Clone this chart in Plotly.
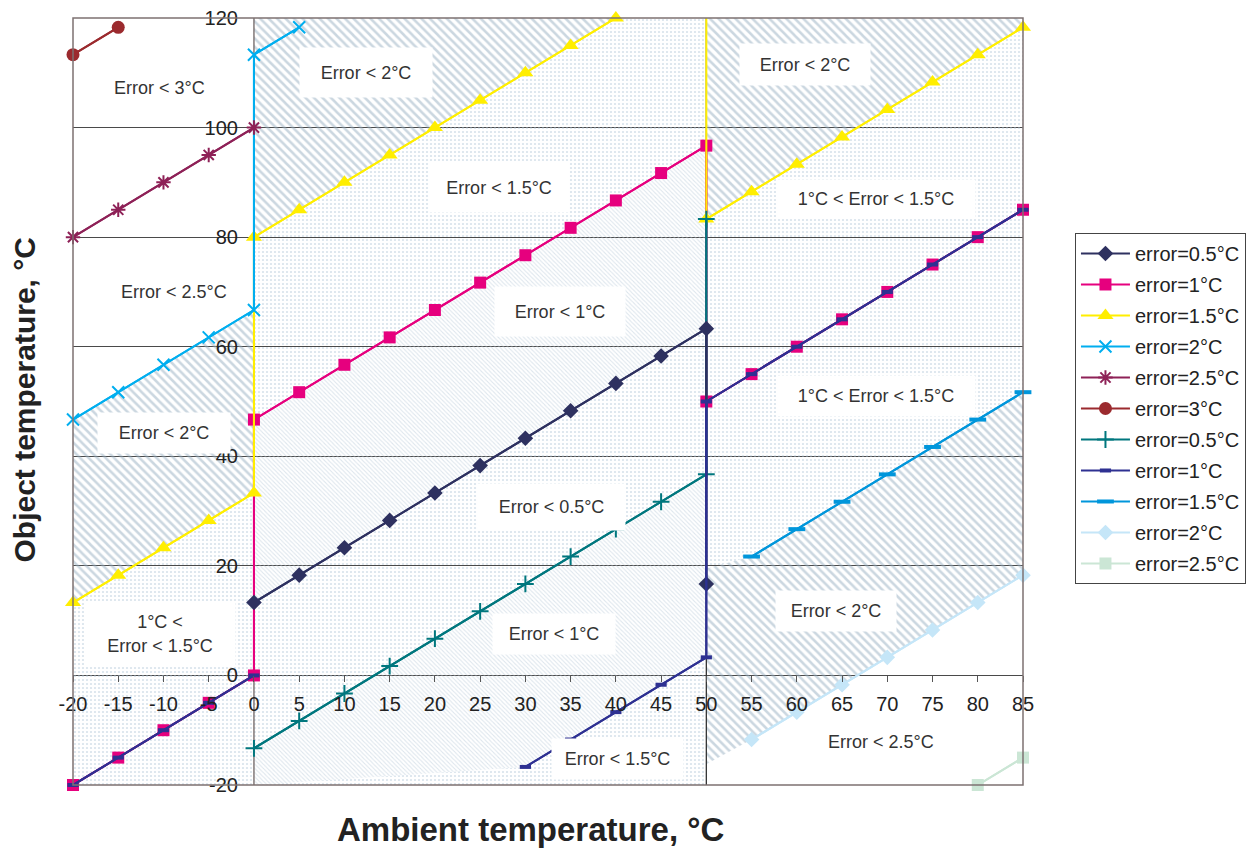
import plotly.graph_objects as go

# ---------------- data ----------------
AMB_LEFT = [-20, -15, -10, -5, 0]
AMB_MID = [0, 5, 10, 15, 20, 25, 30, 35, 40, 45, 50]
AMB_RIGHT = [50, 55, 60, 65, 70, 75, 80, 85]

# first group (markers: diamond, square, triangle, x, asterisk, circle)
E05A_LEFT = [None, None, None, None, None]
E05A_MID = [13.3, 18.3, 23.3, 28.3, 33.3, 38.3, 43.3, 48.3, 53.3, 58.3, 63.3]
E05A_RIGHT = [16.7, None, None, None, None, None, None, None]

E1A_LEFT = [-20, -15, -10, -5, 0]
E1A_MID = [46.7, 51.7, 56.7, 61.7, 66.7, 71.7, 76.7, 81.7, 86.7, 91.7, 96.7]
E1A_RIGHT = [50, 55, 60, 65, 70, 75, 80, 85]

E15A_LEFT = [13.3, 18.3, 23.3, 28.3, 33.3]
E15A_MID = [80, 85, 90, 95, 100, 105, 110, 115, 120, 125, 130]
E15A_RIGHT = [83.3, 88.3, 93.3, 98.3, 103.3, 108.3, 113.3, 118.3]

E2A_LEFT = [46.7, 51.7, 56.7, 61.7, 66.7]
E2A_MID = [113.3, 118.3, None, None, None, None, None, None, None, None, None]
E2A_RIGHT = [None, None, None, None, None, None, None, None]

E25A_LEFT = [80, 85, 90, 95, 100]
E25A_MID = [None] * 11
E25A_RIGHT = [None] * 8

E3A_LEFT = [113.3, 118.3, None, None, None]
E3A_MID = [None] * 11
E3A_RIGHT = [None] * 8

# second group (markers: plus, small dash, dash, light diamond, light square)
E05B_LEFT = [None] * 5
E05B_MID = [-13.3, -8.3, -3.3, 1.7, 6.7, 11.7, 16.7, 21.7, 26.7, 31.7, 36.7]
E05B_RIGHT = [83.3, None, None, None, None, None, None, None]

E1B_LEFT = [-20, -15, -10, -5, 0]
E1B_MID = [None, None, None, None, None, None, -16.7, -11.7, -6.7, -1.7, 3.3]
E1B_RIGHT = [50, 55, 60, 65, 70, 75, 80, 85]

E15B_LEFT = [None] * 5
E15B_MID = [None] * 11
E15B_RIGHT = [None, 21.7, 26.7, 31.7, 36.7, 41.7, 46.7, 51.7]

E2B_LEFT = [None] * 5
E2B_MID = [None] * 11
E2B_RIGHT = [None, -11.7, -6.7, -1.7, 3.3, 8.3, 13.3, 18.3]

E25B_LEFT = [None] * 5
E25B_MID = [None] * 11
E25B_RIGHT = [None, None, None, None, None, None, -20, -15]

# edges of the hatched band at bottom right
BAND_TOP_RIGHT = [19.5, 21.7, 26.7, 31.7, 36.7, 41.7, 46.7, 51.7]
BAND_BOTTOM_RIGHT = [-16.2, -11.7, -6.7, -1.7, 3.3, 8.3, 13.3, 18.3]

X_TICKS = [-20, -15, -10, -5, 0, 5, 10, 15, 20, 25, 30, 35, 40, 45, 50, 55, 60, 65, 70, 75, 80, 85]
X_TICK_TEXT = ["-20", "-15", "-10", "-5", "0", "5", "10", "15", "20", "25", "30", "35", "40",
               "45", "50", "55", "60", "65", "70", "75", "80", "85"]
Y_TICKS = [-20, 0, 20, 40, 60, 80, 100, 120]
Y_TICK_TEXT = ["-20", "0", "20", "40", "60", "80", "100", "120"]
X_MIN, X_MAX = -20, 85
Y_MIN, Y_MAX = -20, 120
SPLIT_X = 50

LABEL_TEXT = ["Error < 3°C", "Error < 2°C", "Error < 1.5°C", "Error < 2.5°C", "Error < 1°C",
              "Error < 2°C", "Error < 0.5°C", "1°C <<br>Error < 1.5°C", "Error < 1°C",
              "Error < 1.5°C", "Error < 2°C", "1°C < Error < 1.5°C", "1°C < Error < 1.5°C",
              "Error < 2°C", "Error < 2.5°C"]
LABEL_X = [-10.4, 12.4, 27.1, -8.8, 33.8, -9.9, 32.9, -10.4, 33.2, 40.2, 60.9, 68.7, 68.7, 64.3, 69.3]
LABEL_Y = [107.3, 110.0, 89.1, 70.0, 66.4, 44.3, 30.8, 7.5, 7.5, -15.3, 111.6, 87.1, 51.0, 11.7, -12.2]
LABEL_W = [None, 132, 138, None, 130, 132, 147, 150, 122, 131, 130, 198, 198, 120, None]
LABEL_H = [None, 49, 49, None, 49, 40, 46, 64, 40, 40, 41, 37, 40, 40, None]

FONT = "Liberation Sans, Arial, sans-serif"


def pts(xs, ys):
    return [(x, y) for x, y in zip(xs, ys) if y is not None]


def poly(points):
    return [p[0] for p in points], [p[1] for p in points]


HATCH = dict(shape="\\", fgcolor="#98afc2", size=6, solidity=0.42)
DOTS = dict(shape=".", fgcolor="#b0c5d5", size=4, solidity=0.24)
FINE = dict(shape="\\", fgcolor="#bccddb", size=3, solidity=0.35)

fig = go.Figure()

regions = []
# left zone
yl = pts(AMB_LEFT, E15A_LEFT)
cl = pts(AMB_LEFT, E2A_LEFT)
regions.append((yl + [(AMB_LEFT[-1], Y_MIN), (AMB_LEFT[0], Y_MIN)], DOTS))
regions.append((yl + cl[::-1], HATCH))
# middle zone
ym = pts(AMB_MID, E15A_MID)
pm = pts(AMB_MID, E1A_MID)
nm = pts(AMB_MID, E05A_MID)
tm = pts(AMB_MID, E05B_MID)
um = pts(AMB_MID, E1B_MID)
regions.append((ym + [(AMB_MID[0], Y_MAX)], HATCH))
regions.append((pm + ym[::-1], DOTS))
regions.append((nm + pm[::-1], FINE))
regions.append((tm + nm[::-1], DOTS))
regions.append((tm + um[::-1] + [(AMB_MID[0], Y_MIN)], FINE))
regions.append((um + [(AMB_MID[-1], Y_MIN), (AMB_MID[0], Y_MIN)], DOTS))
# right zone
yr = pts(AMB_RIGHT, E15A_RIGHT)
pr = pts(AMB_RIGHT, E1A_RIGHT)
bt = pts(AMB_RIGHT, BAND_TOP_RIGHT)
bb = pts(AMB_RIGHT, BAND_BOTTOM_RIGHT)
regions.append((yr + [(AMB_RIGHT[-1], Y_MAX), (AMB_RIGHT[0], Y_MAX)], HATCH))
regions.append((yr + pr[::-1], DOTS))
regions.append((pr + bt[::-1], DOTS))
regions.append((bt + bb[::-1], HATCH))

for pp, pat in regions:
    xs, ys = poly(pp)
    fig.add_trace(go.Scatter(x=xs, y=ys, mode="lines", line=dict(width=0), fill="toself",
                             fillcolor="rgba(0,0,0,0)", fillpattern=pat,
                             hoverinfo="skip", showlegend=False))

# y axis line at x=0 and divider at x=50
fig.add_trace(go.Scatter(x=[0, 0], y=[Y_MIN, Y_MAX], mode="lines",
                         line=dict(color="#6e6464", width=1.3), hoverinfo="skip", showlegend=False))
fig.add_trace(go.Scatter(x=[SPLIT_X, SPLIT_X], y=[Y_MIN, Y_MAX], mode="lines",
                         line=dict(color="#333333", width=1.3), hoverinfo="skip", showlegend=False))

AMB_ALL = AMB_LEFT + AMB_MID + AMB_RIGHT

SERIES = [
    # name, left, mid, right, color, symbol, size, marker line width, legend rank
    ("error=1°C", E1A_LEFT, E1A_MID, E1A_RIGHT, "#E6007E", "square", 12, 0, 2),
    ("error=1.5°C", E15A_LEFT, E15A_MID, E15A_RIGHT, "#FFEE00", "triangle-up", 14, 0, 3),
    ("error=2°C", E2A_LEFT, E2A_MID, E2A_RIGHT, "#00AEEF", "x-thin-open", 12, 2, 4),
    ("error=2.5°C", E25A_LEFT, E25A_MID, E25A_RIGHT, "#8E2157", "asterisk-open", 12, 2, 5),
    ("error=3°C", E3A_LEFT, E3A_MID, E3A_RIGHT, "#9B2A2E", "circle", 13, 0, 6),
    ("error=0.5°C", E05B_LEFT, E05B_MID, E05B_RIGHT, "#00777E", "cross-thin-open", 12, 2, 7),
    ("error=0.5°C", E05A_LEFT, E05A_MID, E05A_RIGHT, "#2E3160", "diamond", 12, 0, 1),
    ("error=1°C", E1B_LEFT, E1B_MID, E1B_RIGHT, "#2E3192", "line-ew-open", 8, 4, 8),
    ("error=1.5°C", E15B_LEFT, E15B_MID, E15B_RIGHT, "#0096DB", "line-ew-open", 12, 4, 9),
    ("error=2°C", E2B_LEFT, E2B_MID, E2B_RIGHT, "#C5E6F8", "diamond", 12, 0, 10),
    ("error=2.5°C", E25B_LEFT, E25B_MID, E25B_RIGHT, "#CBE6D5", "square", 12, 0, 11),
]

for name, l, m, r, col, sym, size, mlw, rank in SERIES:
    ys = l + m + r
    # full line (may run past the frame and is clipped there)
    fig.add_trace(go.Scatter(x=AMB_ALL, y=ys, mode="lines", line=dict(color=col, width=2),
                             connectgaps=False, hoverinfo="skip", showlegend=False))
    shown = [v if (v is not None and Y_MIN <= v <= Y_MAX) else None for v in ys]
    marker = dict(symbol=sym, size=size, color=col)
    if mlw:
        marker["line"] = dict(color=col, width=mlw)
    fig.add_trace(go.Scatter(
        x=AMB_ALL, y=shown, name=name, mode="lines+markers",
        line=dict(color=col, width=2), marker=marker, connectgaps=False,
        cliponaxis=False, legendrank=rank, legendgroup="g%d" % rank))

for t, x, y, w, h in zip(LABEL_TEXT, LABEL_X, LABEL_Y, LABEL_W, LABEL_H):
    a = dict(text=t, x=x, y=y, xref="x", yref="y", showarrow=False,
             font=dict(family=FONT, size=18, color="#333333"), align="center")
    if w:
        a.update(width=w, height=h, bgcolor="white", borderpad=0)
    fig.add_annotation(**a)

# axis titles
fig.add_annotation(text="Ambient temperature, °C", xref="paper", yref="paper",
                   x=0.482, y=-0.0574, xanchor="center", yanchor="middle", showarrow=False,
                   font=dict(family=FONT, size=33, color="#222222", weight="bold"))
fig.add_annotation(text="Object temperature, °C", xref="paper", yref="paper",
                   x=-0.051, y=0.502, xanchor="center", yanchor="middle",
                   showarrow=False, textangle=-90,
                   font=dict(family=FONT, size=30, color="#222222", weight="bold"))

# frame
fig.add_shape(type="rect", xref="paper", yref="paper", x0=0, x1=1, y0=0, y1=1,
              line=dict(color="#7d7272", width=1.5), layer="above")

fig.update_layout(
    width=1251, height=848, autosize=False,
    margin=dict(l=73, r=228, t=18, b=63, autoexpand=False),
    paper_bgcolor="white", plot_bgcolor="white",
    font=dict(family=FONT, color="#222222"),
    xaxis=dict(range=[X_MIN, X_MAX], tickvals=X_TICKS, ticktext=X_TICK_TEXT, anchor="free",
               position=(0 - Y_MIN) / (Y_MAX - Y_MIN), showgrid=False, zeroline=False,
               showline=False, ticks="outside", ticklen=6, tickcolor="#555555",
               ticklabelstandoff=5, tickfont=dict(size=20, color="#222222")),
    yaxis=dict(range=[Y_MIN, Y_MAX], tickvals=Y_TICKS, ticktext=Y_TICK_TEXT, anchor="free",
               position=(0 - X_MIN) / (X_MAX - X_MIN), showgrid=True, gridcolor="#4a4a4a",
               gridwidth=1, zeroline=False, showline=False, ticks="",
               ticklabelstandoff=16, tickfont=dict(size=20, color="#222222")),
    legend=dict(x=1.0547, y=0.7197, xanchor="left", yanchor="top",
                bordercolor="#444444", borderwidth=1, bgcolor="white",
                font=dict(family=FONT, size=20, color="#222222"),
                traceorder="grouped", tracegroupgap=2, itemwidth=49),
    showlegend=True,
)

fig.write_html("out.html", config={"displayModeBar": False},
               post_script="document.body.style.margin='0';document.body.style.overflow='hidden';")
